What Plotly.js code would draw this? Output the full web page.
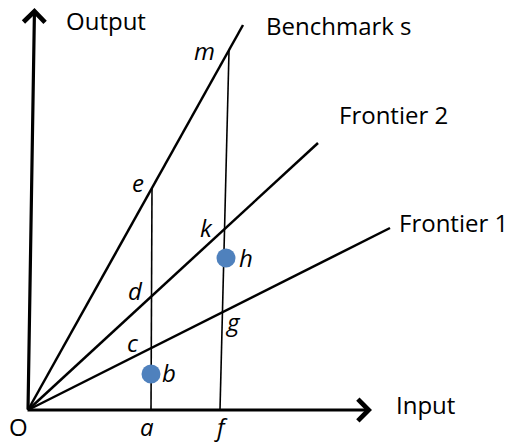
<!DOCTYPE html>
<html><head><meta charset="utf-8">
<script src="https://cdn.plot.ly/plotly-3.0.1.min.js"></script>
<style>html,body{margin:0;padding:0;background:#fff}#chart{width:513px;height:444px}</style>
</head><body><div id="chart"></div>
<script>
// Data (input/output units, origin O = (0,0))
var rayNames = ["Benchmark s", "Frontier 2", "Frontier 1"];
var rayEndX = [215, 290, 362];
var rayEndY = [385, 267, 182];
var rayLabelX = [236, 309, 369];
var rayLabelY = [385, 296, 188];

var lineA_X = [123, 124];   // a -> e
var lineA_Y = [0, 222];
var lineF_X = [192, 201];   // f -> m
var lineF_Y = [0, 359];

var pointNames = ["b", "h"];
var pointX = [123, 198];
var pointY = [36, 152];

var letterText = ["m", "e", "d", "c", "b", "k", "h", "g", "a", "f"];
var letterX = [176, 110, 107, 105, 141, 178, 218, 205, 119, 193];
var letterY = [360, 228, 120, 68, 38, 183, 153, 89, -34, -34];
var originLabel = "O";
var originLabelX = -10, originLabelY = -34;

var xAxisFrom = [-2, 0], xAxisTo = [344, 0];
var yAxisFrom = [0, -1], yAxisTo = [6.5, 402];
var axisNames = ["Input", "Output"];
var axisLabelX = [366, 36];
var axisLabelY = [6, 390];

var black = "#000";
var traces = [];
for (var i = 0; i < rayNames.length; i++) {
  traces.push({x: [0, rayEndX[i]], y: [0, rayEndY[i]], mode: "lines", type: "scatter",
    line: {color: black, width: 2.5}, hoverinfo: "skip", showlegend: false});
}
traces.push({x: lineA_X, y: lineA_Y, mode: "lines", line: {color: black, width: 1.6}, showlegend: false, hoverinfo: "skip"});
traces.push({x: lineF_X, y: lineF_Y, mode: "lines", line: {color: black, width: 1.6}, showlegend: false, hoverinfo: "skip"});
traces.push({x: pointX, y: pointY, mode: "markers", marker: {color: "#4F81BD", size: 19}, text: pointNames, showlegend: false, hoverinfo: "skip"});

var ann = [];
var fontReg = {family: "Open Sans, sans-serif", size: 24, color: black};
var fontIt = {family: "Open Sans, sans-serif", size: 24, color: black, style: "italic"};
for (var i = 0; i < rayNames.length; i++) {
  ann.push({x: rayLabelX[i], y: rayLabelY[i], xref: "x", yref: "y", text: rayNames[i], showarrow: false, xanchor: "left", yanchor: "middle", font: fontReg});
}
for (var i = 0; i < axisNames.length; i++) {
  ann.push({x: axisLabelX[i], y: axisLabelY[i], xref: "x", yref: "y", text: axisNames[i], showarrow: false, xanchor: "left", yanchor: "middle", font: fontReg});
}
for (var i = 0; i < letterText.length; i++) {
  var bottom = letterY[i] <= -30;
  ann.push({x: letterX[i], y: letterY[i], xref: "x", yref: "y", text: letterText[i], showarrow: false, xanchor: "center", yanchor: bottom ? "bottom" : "middle", borderpad: 0, font: fontIt});
}
ann.push({x: originLabelX, y: originLabelY, xref: "x", yref: "y", text: originLabel, showarrow: false, xanchor: "center", yanchor: "bottom", borderpad: 0, font: fontReg});
// axis arrows
ann.push({x: xAxisTo[0], y: xAxisTo[1], ax: xAxisFrom[0], ay: xAxisFrom[1], xref: "x", yref: "y", axref: "x", ayref: "y", text: "", showarrow: true, arrowhead: 4, arrowsize: 1.3, arrowwidth: 3.2, arrowcolor: black, standoff: 0});
ann.push({x: yAxisTo[0], y: yAxisTo[1], ax: yAxisFrom[0], ay: yAxisFrom[1], xref: "x", yref: "y", axref: "x", ayref: "y", text: "", showarrow: true, arrowhead: 4, arrowsize: 1.3, arrowwidth: 3.2, arrowcolor: black, standoff: 0});

var layout = {
  width: 513, height: 444,
  margin: {l: 0, r: 0, t: 0, b: 0},
  paper_bgcolor: "#fff", plot_bgcolor: "#fff",
  xaxis: {range: [-28, 485], visible: false, fixedrange: true},
  yaxis: {range: [-34, 410], visible: false, fixedrange: true},
  annotations: ann,
  showlegend: false
};
Plotly.newPlot("chart", traces, layout, {staticPlot: true, displayModeBar: false});
</script></body></html>
